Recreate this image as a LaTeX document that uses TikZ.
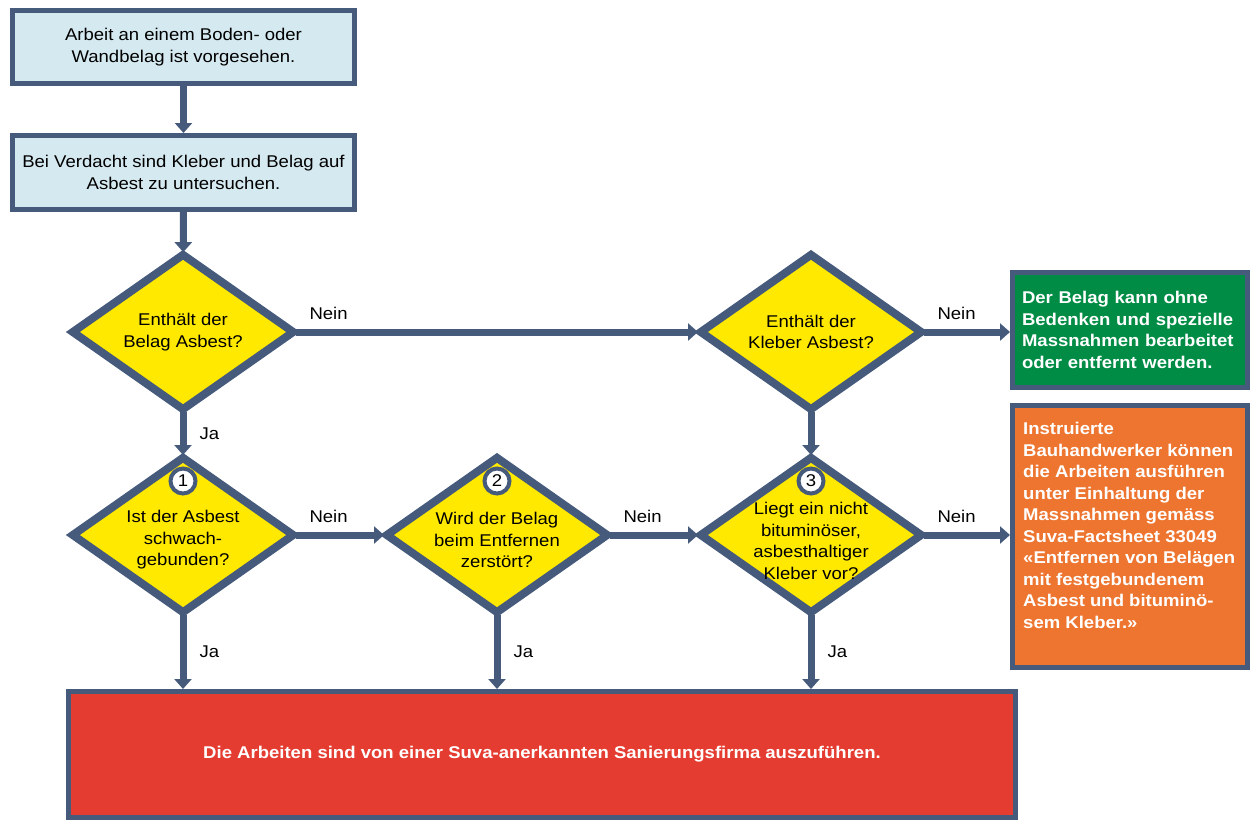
\documentclass[tikz,border=0pt]{standalone}
\usepackage{fontspec}
\setmainfont{Liberation Sans}[FakeStretch=1.09]
\usetikzlibrary{shapes.geometric,arrows.meta}

\definecolor{slate}{HTML}{465A7C}
\definecolor{hellblau}{HTML}{D5E9F0}
\definecolor{gelb}{HTML}{FFE900}
\definecolor{gruen}{HTML}{008C45}
\definecolor{orangebox}{HTML}{EE7530}
\definecolor{rot}{HTML}{E53C31}
\newcommand\flowfont{\fontsize{17}{21.5}\selectfont}

\begin{document}
\begin{tikzpicture}[x=1pt, y=-1pt,
    box/.style={rectangle, draw=slate, line width=5pt, outer sep=2.5pt,
                inner sep=0pt, align=center, font=\flowfont},
    frage/.style={diamond, draw=slate, fill=gelb, line width=8pt,
                  inner sep=0pt, outer sep=2pt,
                  minimum width=222pt, minimum height=156pt},
    fragetext/.style={align=center, font=\flowfont, inner sep=0pt},
    nummer/.style={circle, draw=slate, fill=white, line width=4pt,
                   minimum size=25pt, inner sep=0pt, font=\flowfont},
    fluss/.style={draw=slate, line width=7pt, -{Triangle[width=17pt,length=10pt]}},
    antwort/.style={font=\flowfont, inner sep=0pt},
    ]
\useasboundingbox (0,0) rectangle (1252,820);

% Einstieg
\node[box, fill=hellblau, minimum width=342pt, minimum height=73pt] (start) at (183.5,47)
    {Arbeit an einem Boden- oder\\Wandbelag ist vorgesehen.};
\node[box, fill=hellblau, minimum width=342pt, minimum height=74pt] (verdacht) at (183.5,172.5)
    {Bei Verdacht sind Kleber und Belag auf\\Asbest zu untersuchen.};

% Fragen
\node[frage] (belag) at (183,332) {};
\node[fragetext] (belagtext) at (belag) {Enthält der\\Belag Asbest?};
\node[frage] (kleber) at (811,332) {};
\node[fragetext] (klebertext) at (kleber) {Enthält der\\Kleber Asbest?};
\node[frage] (schwach) at (183,535) {};
\node[fragetext] (schwachtext) at (183,540) {Ist der Asbest\\schwach-\\gebunden?};
\node[frage] (zerstoert) at (497,535) {};
\node[fragetext] (zerstoerttext) at (497,540) {Wird der Belag\\beim Entfernen\\zerstört?};
\node[frage] (bitumen) at (811,535) {};
\node[fragetext] (bitumentext) at (811,541) {Liegt ein nicht\\bituminöser,\\asbesthaltiger\\Kleber vor?};

\node[nummer] (n1) at (183,481) {1};
\node[nummer] (n2) at (497,481) {2};
\node[nummer] (n3) at (811,481) {3};

% Ergebnisse
\node[box, fill=gruen, text=white, font=\flowfont\bfseries, align=left,
      text width=216pt, inner xsep=9.5pt, minimum height=115pt] (ohne) at (1130,330)
    {Der Belag kann ohne\\Bedenken und spezielle\\Massnahmen bearbeitet\\oder entfernt werden.};
\node[box, fill=orangebox, minimum width=235pt, minimum height=262pt] (instruiert) at (1130,536.5) {};
\node[anchor=north west, text=white, font=\flowfont\bfseries, align=left, inner sep=0pt]
    (instrtext) at (1023,422)
    {Instruierte\\Bauhandwerker können\\die Arbeiten ausführen\\unter Einhaltung der\\Massnahmen gemäss\\Suva-Factsheet 33049\\«Entfernen von Belägen\\mit festgebundenem\\Asbest und bituminö-\\sem Kleber.»};
\node[box, fill=rot, text=white, font=\flowfont\bfseries,
      minimum width=947pt, minimum height=126pt] (firma) at (542,754.5)
    {Die Arbeiten sind von einer Suva-anerkannten Sanierungsfirma auszuführen.};

% Verbindungen
\draw[fluss] (start) -- (verdacht);
\draw[fluss] (verdacht) -- (belag);
\draw[fluss] (belag) -- node[antwort, pos=0, anchor=south west, xshift=10pt, yshift=9pt] {Nein} (kleber);
\draw[fluss] (kleber.east) -- node[antwort, pos=0, anchor=south west, xshift=10pt, yshift=9pt] {Nein} (kleber.east -| ohne.west);
\draw[fluss] (belag) -- node[antwort, midway, anchor=west, xshift=13pt] {Ja} (schwach);
\draw[fluss] (kleber) -- (bitumen);
\draw[fluss] (schwach) -- node[antwort, pos=0, anchor=south west, xshift=10pt, yshift=9pt] {Nein} (zerstoert);
\draw[fluss] (zerstoert) -- node[antwort, pos=0, anchor=south west, xshift=10pt, yshift=9pt] {Nein} (bitumen);
\draw[fluss] (bitumen.east) -- node[antwort, pos=0, anchor=south west, xshift=10pt, yshift=9pt] {Nein} (bitumen.east -| instruiert.west);
\draw[fluss] (schwach.south) -- node[antwort, midway, anchor=west, xshift=13pt] {Ja} (schwach.south |- firma.north);
\draw[fluss] (zerstoert.south) -- node[antwort, midway, anchor=west, xshift=13pt] {Ja} (zerstoert.south |- firma.north);
\draw[fluss] (bitumen.south) -- node[antwort, midway, anchor=west, xshift=13pt] {Ja} (bitumen.south |- firma.north);
\end{tikzpicture}
\end{document}
